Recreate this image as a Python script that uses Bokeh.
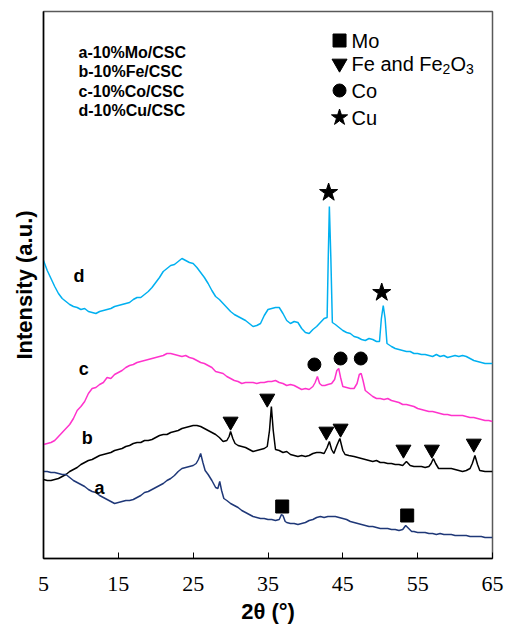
from bokeh.plotting import figure
from bokeh.models import Range1d, FixedTicker, Label
from bokeh.embed import file_html
from bokeh.resources import INLINE

# ---------------- data ----------------
tick_vals = [5, 15, 25, 35, 45, 55, 65]
tick_labels = ["5", "15", "25", "35", "45", "55", "65"]

d_x = [5.0,5.5,6.0,6.5,7.0,7.5,8.0,8.5,9.0,9.5,10.0,10.5,11.0,11.5,12.0,12.5,13.0,13.5,14.0,14.5,15.0,15.5,16.0,16.5,17.0,17.5,18.0,18.5,19.0,19.5,20.0,20.5,21.0,21.5,22.0,22.5,23.0,23.5,24.0,24.5,25.0,25.5,26.0,26.5,27.0,27.5,28.0,28.5,29.0,29.5,30.0,30.5,31.0,31.5,32.0,32.5,33.0,33.5,34.0,34.5,35.0,35.5,36.0,36.5,37.0,37.5,38.0,38.5,39.0,39.5,40.0,40.5,41.0,41.5,42.0,42.5,42.9,43.05,43.2,43.4,43.6,44.0,44.5,45.0,45.5,46.0,46.5,47.0,47.5,48.0,48.5,49.0,49.5,49.9,50.15,50.4,50.65,50.9,51.5,52.0,52.5,53.0,53.5,54.0,54.5,55.0,55.5,56.0,56.5,57.0,57.5,58.0,58.5,59.0,59.5,60.0,60.5,61.0,61.5,62.0,62.5,63.0,63.5,64.0,64.5,65.0]
d_y = [298,288,280,272,265,260,257,254,252,251,249,250,247,246,245,247,248,249,250,252,253,254,255,256,259,261,261,264,267,271,276,281,287,290,293,294,297,300,298,296,295,291,286,281,275,268,262,259,255,251,247,244,242,240,238,235,232,233,235,243,249,250,251,251,245,238,235,237,236,230,226,225,229,232,236,240,241,300,352,300,236,234,231,228,226,225,222,221,219,218,220,219,217,217,240,253,240,215,212,210,209,208,207,207,205,205,204,204,203,202,204,202,203,201,202,203,202,203,202,200,198,197,196,195,195,195]

c_x = [5.0,5.5,6.0,6.5,7.0,7.5,8.0,8.5,9.0,9.5,10.0,10.5,11.0,11.5,12.0,12.5,13.0,13.5,14.0,14.5,15.0,15.5,16.0,16.5,17.0,17.5,18.0,18.5,19.0,19.5,20.0,20.5,21.0,21.5,22.0,22.5,23.0,23.5,24.0,24.5,25.0,25.5,26.0,26.5,27.0,27.5,28.0,28.5,29.0,29.5,30.0,30.5,31.0,31.5,32.0,32.5,33.0,33.5,34.0,34.5,35.0,35.5,36.0,36.5,37.0,37.5,38.0,38.5,39.0,39.5,40.0,40.5,41.0,41.3,41.6,41.9,42.2,42.6,43.0,43.5,43.9,44.2,44.45,44.7,45.0,45.5,46.0,46.5,46.9,47.2,47.45,47.7,48.0,48.5,49.0,49.5,50.0,50.5,51.0,51.5,52.0,52.5,53.0,53.5,54.0,54.5,55.0,55.5,56.0,56.5,57.0,57.5,58.0,58.5,59.0,59.5,60.0,60.5,61.0,61.5,62.0,62.5,63.0,63.5,64.0,64.5,65.0]
c_y = [114,115,116,118,122,126,130,134,140,148,152,157,165,170,171,174,176,181,180,184,186,188,191,193,194,196,197,198,199,200,201,202,203,205,205,204,203,202,203,201,200,198,196,195,193,191,187,186,185,182,180,178,177,175,176,176,176,175,176,176,177,177,178,176,175,173,174,173,171,169,170,169,172,176,182,175,173,173,174,175,179,188,190,181,172,171,170,170,175,184,185,178,168,165,162,160,160,159,160,158,157,156,154,154,153,152,150,149,148,147,147,146,145,144,144,143,143,143,143,142,141,141,140,139,138,138,137]

b_x = [5.0,5.5,6.0,6.5,7.0,7.5,8.0,8.5,9.0,9.5,10.0,10.5,11.0,11.5,12.0,12.5,13.0,13.5,14.0,14.5,15.0,15.5,16.0,16.5,17.0,17.5,18.0,18.5,19.0,19.5,20.0,20.5,21.0,21.5,22.0,22.5,23.0,23.5,24.0,24.5,25.0,25.5,26.0,26.5,27.0,27.5,28.0,28.5,29.0,29.5,29.8,30.0,30.3,30.6,31.0,31.5,32.0,32.5,33.0,33.5,34.0,34.5,34.9,35.2,35.45,35.7,36.0,36.5,37.0,37.5,38.0,38.5,39.0,39.5,40.0,40.5,41.0,41.5,42.0,42.5,42.9,43.2,43.5,43.8,44.2,44.6,45.0,45.3,45.8,46.5,47.0,47.5,48.0,48.5,49.0,49.5,50.0,50.5,51.0,51.5,52.0,52.5,53.0,53.5,54.0,54.5,55.0,55.5,56.0,56.5,56.8,57.1,57.4,57.8,58.5,59.0,59.5,60.0,60.5,61.0,61.5,62.0,62.3,62.65,63.0,63.3,64.0,64.5,65.0]
b_y = [79,78,78,79,80,82,84,87,89,91,94,96,98,99,101,103,104,105,106,108,109,110,112,113,115,116,116,118,118,119,121,123,124,124,126,127,128,130,131,132,133,133,132,130,128,126,124,121,117,118,122,127,120,115,113,112,111,109,107,108,109,110,112,128,152,128,109,108,106,107,104,103,102,103,102,103,105,106,106,105,111,117,109,105,113,120,108,104,103,102,101,100,99,98,97,98,96,96,95,95,94,94,93,97,93,92,92,92,91,92,95,100,95,90,90,90,90,89,88,87,88,90,95,103,94,88,87,87,87]

a_x = [5.0,5.5,6.0,6.5,7.0,7.5,8.0,8.5,9.0,9.5,10.0,10.5,11.0,11.5,12.0,12.5,13.0,13.5,14.0,14.5,15.0,15.5,16.0,16.5,17.0,17.5,18.0,18.5,19.0,19.5,20.0,20.5,21.0,21.5,22.0,22.5,23.0,23.5,24.0,24.5,25.0,25.4,25.7,26.0,26.3,26.6,27.0,27.5,28.0,28.3,28.55,28.8,29.1,29.5,30.0,30.5,31.0,31.5,32.0,32.5,33.0,33.5,34.0,34.5,35.0,35.5,36.0,36.5,36.8,37.0,37.3,37.5,38.0,38.5,39.0,39.5,40.0,40.5,41.0,41.5,42.0,42.5,43.0,43.5,44.0,44.5,45.0,45.5,46.0,46.5,47.0,47.5,48.0,48.5,49.0,49.5,50.0,50.5,51.0,51.5,52.0,52.5,53.0,53.4,53.8,54.2,54.5,55.0,55.5,56.0,56.5,57.0,57.5,58.0,58.5,59.0,59.5,60.0,60.5,61.0,61.5,62.0,62.5,63.0,63.5,64.0,64.5,65.0]
a_y = [87,87,86,86,85,84,84,81,78,76,74,72,69,67,66,63,61,59,57,55,56,57,58,58,59,61,63,66,67,69,71,73,75,78,80,83,87,90,91,92,93,95,99,105,96,88,84,78,71,70,77,68,60,58,55,53,51,48,46,44,42,41,40,40,39,39,38,39,44,43,37,36,35,35,34,35,36,38,39,41,42,41,42,42,42,41,40,39,37,36,35,34,33,32,32,31,30,30,30,29,29,28,29,33,30,27,27,26,26,26,25,25,24,25,24,24,24,23,23,23,23,22,22,22,22,21,21,21]

mo_x = [36.9, 53.6]
mo_y = [52, 43]
fe_x = [30.0, 34.9, 42.8, 44.7, 53.1, 56.9, 62.5]
fe_y = [137, 160, 127, 130, 109, 109, 115]
co_x = [41.2, 44.7, 47.4]
co_y = [194, 200, 200]
cu_x = [43.1, 50.2]
cu_y = [366, 266]

sample_names = ["a-10%Mo/CSC", "b-10%Fe/CSC", "c-10%Co/CSC", "d-10%Cu/CSC"]

# ---------------- figure ----------------
SANS = "Liberation Sans"
p = figure(width=506, height=630, x_range=Range1d(5, 65), y_range=Range1d(0, 547),
           output_backend="svg", toolbar_location=None,
           min_border_left=43, min_border_right=14, min_border_top=11, min_border_bottom=72)
p.background_fill_color = "white"
p.border_fill_color = "white"
p.xgrid.visible = False
p.ygrid.visible = False
p.outline_line_color = "#595959"
p.outline_line_width = 1.5

xa = p.xaxis[0]
xa.ticker = FixedTicker(ticks=tick_vals)
xa.major_label_overrides = {v: l for v, l in zip(tick_vals, tick_labels)}
xa.major_tick_in = 6
xa.major_tick_out = 0
xa.minor_tick_line_color = None
xa.axis_line_width = 1.5
xa.axis_line_color = "black"
xa.major_label_text_font = "Liberation Serif"
xa.major_label_text_font_size = "22px"
xa.major_label_text_color = "black"
xa.major_label_standoff = 18
xa.axis_label = "2θ (°)"
xa.axis_label_text_font = SANS
xa.axis_label_text_font_style = "bold"
xa.axis_label_text_font_size = "22px"
xa.axis_label_text_color = "black"
xa.axis_label_standoff = 5

ya = p.yaxis[0]
ya.ticker = FixedTicker(ticks=[])
ya.major_tick_line_color = None
ya.minor_tick_line_color = None
ya.axis_line_width = 1.5
ya.axis_line_color = "black"
ya.axis_label = "Intensity (a.u.)"
ya.axis_label_text_font = SANS
ya.axis_label_text_font_style = "bold"
ya.axis_label_text_font_size = "22px"
ya.axis_label_text_color = "black"
ya.axis_label_standoff = 7

# curves
p.line(d_x, d_y, line_color="#00B0F0", line_width=1.5)
p.line(c_x, c_y, line_color="#FF33CC", line_width=1.5)
p.line(b_x, b_y, line_color="black", line_width=1.5)
p.line(a_x, a_y, line_color="#1F3878", line_width=1.5)

# peak markers
p.scatter(mo_x, mo_y, marker="square", size=13, color="black")
p.scatter(fe_x, fe_y, marker="inverted_triangle", size=15, color="black")
p.scatter(co_x, co_y, marker="circle", size=13, color="black")
p.scatter(cu_x, cu_y, marker="star", size=19, color="black")

# legend (top right)
leg_x = 44.56
leg_y = [518, 495, 468, 441]
p.scatter([leg_x], [leg_y[0]], marker="square", size=13, color="black")
p.scatter([leg_x], [leg_y[1]], marker="inverted_triangle", size=15, color="black")
p.scatter([leg_x], [leg_y[2]], marker="circle", size=13, color="black")
p.scatter([leg_x], [leg_y[3]], marker="star", size=17, color="black")

def lab(x, y, t, size="20px", style="normal", x_off=0, y_off=0):
    p.add_layout(Label(x=x, y=y, text=t, text_font=SANS, text_font_size=size,
                       text_font_style=style, text_color="black",
                       text_baseline="middle", text_align="left",
                       x_offset=x_off, y_offset=y_off))

tx = 46.16
lab(tx, leg_y[0], "Mo")
lab(tx, leg_y[1], "Fe and Fe")
lab(tx, leg_y[1], "2", size="14px", x_off=91, y_off=-5)
lab(tx, leg_y[1], "O", x_off=99)
lab(tx, leg_y[1], "3", size="14px", x_off=114.5, y_off=-5)
lab(tx, leg_y[2], "Co")
lab(tx, leg_y[3], "Cu")

# sample names (top left)
for i, name in enumerate(sample_names):
    lab(9.68, 506 - i * 19.3, name, size="16px", style="bold")

# curve letters
for letter, (x, y) in zip(["d", "c", "b", "a"], [(9.0, 283), (9.7, 190), (10.1, 121), (11.8, 71)]):
    p.add_layout(Label(x=x, y=y, text=letter, text_font=SANS, text_font_size="18px",
                       text_font_style="bold", text_color="black",
                       text_baseline="middle", text_align="left"))

open("out.html", "w").write(file_html(p, INLINE))
